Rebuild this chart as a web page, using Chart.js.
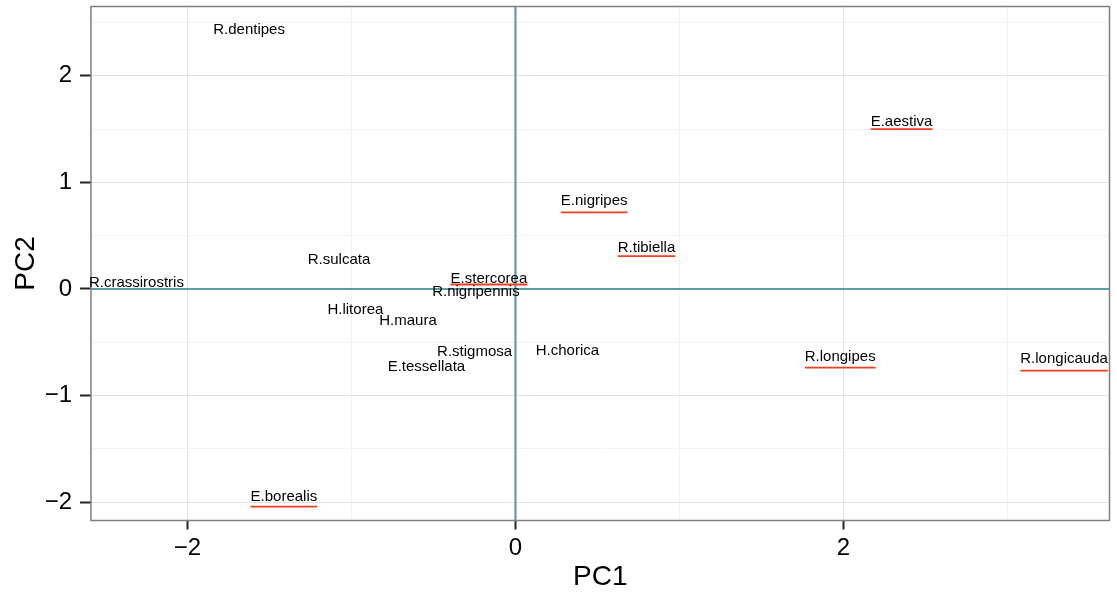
<!DOCTYPE html>
<html>
<head>
<meta charset="utf-8">
<title>PCA of species</title>
<script src="https://cdn.jsdelivr.net/npm/chart.js@4.4.1/dist/chart.umd.min.js"></script>
<style>
  html, body { margin: 0; padding: 0; background: #ffffff; }
  #wrap { width: 1117px; height: 594px; }
</style>
</head>
<body>
<div id="wrap"><canvas id="pca" width="1117" height="594"></canvas></div>
<script>
// Species scores on the first two principal components
const species = [
  'R.dentipes', 'E.aestiva', 'E.nigripes', 'R.tibiella', 'R.sulcata',
  'R.crassirostris', 'E.stercorea', 'R.nigripennis', 'H.litorea', 'H.maura',
  'R.stigmosa', 'E.tessellata', 'H.chorica', 'R.longipes', 'R.longicauda',
  'E.borealis'
];
const pc1 = [
  -1.624, 2.354, 0.480, 0.799, -1.076,
  -2.311, -0.162, -0.241, -0.976, -0.655,
  -0.249, -0.543, 0.317, 1.980, 3.345,
  -1.412
];
const pc2 = [
  2.428, 1.571, 0.825, 0.389, 0.272,
  0.056, 0.094, -0.028, -0.197, -0.300,
  -0.591, -0.729, -0.581, -0.638, -0.656,
  -1.946
];
// Highlighted species get a red rule under their name (PC2 level of the rule)
const ruleY = [
  null, 1.500, 0.719, 0.309, null,
  null, 0.042, null, null, null,
  null, null, null, -0.738, -0.766,
  -2.040
];
// Axis extents and tick steps
const xRange = [-2.588, 3.622];
const yRange = [-2.171, 2.649];
const xStep = 1, xMajorEvery = 2;
const yStep = 0.5, yMajorEvery = 1;

const FONT = '"Liberation Sans", Arial, Helvetica, sans-serif';
const ZERO_COLOR = '#5F9EA0';
const RULE_COLOR = '#F0401F';

const isMultiple = (v, m) => Math.abs(v / m - Math.round(v / m)) < 1e-6;
const fmt = v => (v < 0 ? '\u2212' + Math.abs(v) : String(v));

const points = pc1.map((x, i) => ({ x, y: pc2[i] }));

const speciesLayer = {
  id: 'speciesLayer',
  beforeDatasetsDraw(chart) {
    const { ctx, chartArea: a, scales: { x, y } } = chart;
    ctx.save();
    // reference lines through the origin
    const x0 = x.getPixelForValue(0);
    const y0 = y.getPixelForValue(0);
    ctx.strokeStyle = ZERO_COLOR;
    ctx.lineWidth = 2.2;
    ctx.beginPath();
    ctx.moveTo(x0, a.top); ctx.lineTo(x0, a.bottom);
    ctx.moveTo(a.left, y0); ctx.lineTo(a.right, y0);
    ctx.stroke();
    // panel frame
    ctx.strokeStyle = '#7F7F7F';
    ctx.lineWidth = 1.5;
    ctx.strokeRect(a.left, a.top, a.right - a.left, a.bottom - a.top);
    ctx.restore();
  },
  afterDatasetsDraw(chart) {
    const { ctx, scales: { y } } = chart;
    const meta = chart.getDatasetMeta(0);
    ctx.save();
    ctx.font = '15px ' + FONT;
    ctx.textAlign = 'center';
    ctx.textBaseline = 'middle';
    meta.data.forEach((pt, i) => {
      if (ruleY[i] !== null) {
        const w = ctx.measureText(species[i]).width;
        const ly = y.getPixelForValue(ruleY[i]);
        ctx.strokeStyle = RULE_COLOR;
        ctx.lineWidth = 1.8;
        ctx.beginPath();
        ctx.moveTo(pt.x - w / 2, ly);
        ctx.lineTo(pt.x + w / 2, ly);
        ctx.stroke();
      }
    });
    ctx.fillStyle = '#000000';
    meta.data.forEach((pt, i) => {
      ctx.fillText(species[i], pt.x, pt.y);
    });
    ctx.restore();
  }
};

const gridColor = (step, major) => c => {
  const v = c.tick ? c.tick.value : NaN;
  if (isMultiple(v, major)) return '#E3E3E3';
  if (isMultiple(v, step)) return '#F3F3F3';
  return 'rgba(0,0,0,0)';
};
const tickColor = major => c =>
  (c.tick && isMultiple(c.tick.value, major) ? '#222222' : 'rgba(0,0,0,0)');

new Chart(document.getElementById('pca'), {
  type: 'scatter',
  data: {
    datasets: [{
      label: 'species',
      data: points,
      pointRadius: 0,
      pointHoverRadius: 0
    }]
  },
  options: {
    responsive: false,
    devicePixelRatio: 1,
    animation: false,
    events: [],
    layout: { padding: { top: 6.5, right: 7.5, left: 0, bottom: 0 } },
    plugins: {
      legend: { display: false },
      tooltip: { enabled: false }
    },
    scales: {
      x: {
        type: 'linear',
        min: xRange[0],
        max: xRange[1],
        afterFit: s => {
          s.height = 73.5;
          s.paddingLeft = 0; s.paddingRight = 0;
        },
        border: { display: false },
        ticks: {
          stepSize: xStep,
          includeBounds: false,
          autoSkip: false,
          maxRotation: 0,
          maxTicksLimit: 100,
          padding: 4,
          color: '#000000',
          font: { family: FONT, size: 24 },
          callback: v => (isMultiple(v, xMajorEvery) ? fmt(v) : '')
        },
        grid: {
          drawTicks: true,
          tickLength: 9,
          tickWidth: 2,
          lineWidth: 1,
          color: gridColor(xStep, xMajorEvery),
          tickColor: tickColor(xMajorEvery)
        },
        title: {
          display: true,
          text: 'PC1',
          color: '#000000',
          font: { family: FONT, size: 28 },
          padding: { top: 0, bottom: 0 }
        }
      },
      y: {
        type: 'linear',
        min: yRange[0],
        max: yRange[1],
        afterFit: s => {
          s.width = 91;
          s.paddingTop = 0; s.paddingBottom = 0;
        },
        border: { display: false },
        ticks: {
          stepSize: yStep,
          includeBounds: false,
          autoSkip: false,
          maxTicksLimit: 100,
          padding: 8,
          color: '#000000',
          font: { family: FONT, size: 24 },
          callback: v => (isMultiple(v, yMajorEvery) ? fmt(v) : '')
        },
        grid: {
          drawTicks: true,
          tickLength: 11,
          tickWidth: 2,
          lineWidth: 1,
          color: gridColor(yStep, yMajorEvery),
          tickColor: tickColor(yMajorEvery)
        },
        title: {
          display: true,
          text: 'PC2',
          color: '#000000',
          font: { family: FONT, size: 28 },
          padding: { top: 9, bottom: 0 }
        }
      }
    }
  },
  plugins: [speciesLayer]
});
</script>
</body>
</html>
